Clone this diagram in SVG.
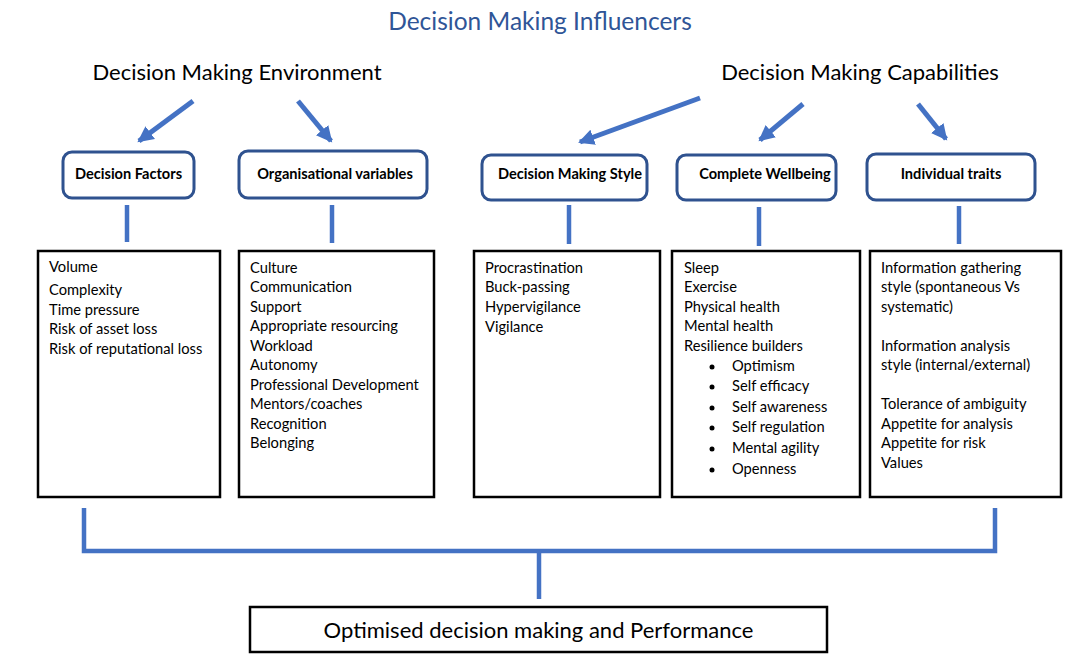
<svg xmlns="http://www.w3.org/2000/svg" width="1077" height="657" viewBox="0 0 1077 657">
<style>
.t{font-family:Lato,"Liberation Sans",sans-serif;fill:#000}
.title{font-size:24.5px;fill:#2F5597}
.h{font-size:22px}
.hb{font-size:14.6px;font-weight:bold}
.b{font-size:14.7px}
.rb{fill:#fff;stroke:#2F528F;stroke-width:3}
.cb{fill:#fff;stroke:#000;stroke-width:2.5}
.ln{stroke:#4472C4;stroke-width:4.5;fill:none}
.ar{stroke:#4472C4;stroke-width:5;fill:none;marker-end:url(#ah)}
</style>
<defs>
<marker id="ah" markerUnits="userSpaceOnUse" markerWidth="20" markerHeight="20" viewBox="0 0 20 20" refX="14" refY="10" orient="auto">
<path d="M0,2 L16,10 L0,18 z" fill="#4472C4"/>
</marker>
</defs>
<text class="t title" x="540" y="30" text-anchor="middle">Decision Making Influencers</text>
<text class="t h" x="237" y="80" text-anchor="middle">Decision Making Environment</text>
<text class="t h" x="860" y="80" text-anchor="middle">Decision Making Capabilities</text>
<g id="connectors">
<line class="ar" x1="193" y1="101" x2="139" y2="141"/>
<line class="ar" x1="298" y1="101" x2="331" y2="141"/>
<line class="ar" x1="700" y1="98" x2="580" y2="142"/>
<line class="ar" x1="803" y1="104" x2="760" y2="140"/>
<line class="ar" x1="918" y1="104" x2="946" y2="139"/>
<line class="ln" x1="127" y1="205" x2="127" y2="242"/>
<line class="ln" x1="332" y1="205" x2="332" y2="243"/>
<line class="ln" x1="569" y1="205" x2="569" y2="244"/>
<line class="ln" x1="759" y1="207" x2="759" y2="246"/>
<line class="ln" x1="959" y1="206" x2="959" y2="244"/>
<polyline class="ln" points="84,508 84,551 995,551 995,508"/>
<line class="ln" x1="539" y1="551" x2="539" y2="599"/>
</g>
<g id="decision-factors">
<rect class="rb" x="63" y="152" width="131" height="46" rx="9"/>
<text class="t hb" x="128.5" y="179" text-anchor="middle">Decision Factors</text>
</g>
<g id="organisational-variables">
<rect class="rb" x="239" y="151" width="188" height="47" rx="9"/>
<text class="t hb" x="335" y="179" text-anchor="middle">Organisational variables</text>
</g>
<g id="decision-making-style">
<rect class="rb" x="482" y="155" width="165" height="45" rx="9"/>
<text class="t hb" x="570" y="179" text-anchor="middle">Decision Making Style</text>
</g>
<g id="complete-wellbeing">
<rect class="rb" x="677" y="155" width="159" height="45" rx="9"/>
<text class="t hb" x="765" y="179" text-anchor="middle">Complete Wellbeing</text>
</g>
<g id="individual-traits">
<rect class="rb" x="867" y="154" width="168" height="46" rx="9"/>
<text class="t hb" x="951" y="179" text-anchor="middle">Individual traits</text>
</g>
<g id="factors-list">
<rect class="cb" x="38" y="251" width="182" height="246"/>
<text class="t b" x="49" y="272">Volume</text>
<text class="t b" x="49" y="295">Complexity</text>
<text class="t b" x="49" y="315">Time pressure</text>
<text class="t b" x="49" y="334">Risk of asset loss</text>
<text class="t b" x="49" y="354">Risk of reputational loss</text>
</g>
<g id="org-list">
<rect class="cb" x="239" y="251" width="195" height="246"/>
<text class="t b" x="250" y="273">Culture</text>
<text class="t b" x="250" y="292">Communication</text>
<text class="t b" x="250" y="312">Support</text>
<text class="t b" x="250" y="331">Appropriate resourcing</text>
<text class="t b" x="250" y="351">Workload</text>
<text class="t b" x="250" y="370">Autonomy</text>
<text class="t b" x="250" y="390">Professional Development</text>
<text class="t b" x="250" y="409">Mentors/coaches</text>
<text class="t b" x="250" y="429">Recognition</text>
<text class="t b" x="250" y="448">Belonging</text>
</g>
<g id="style-list">
<rect class="cb" x="474" y="251" width="186" height="246"/>
<text class="t b" x="485" y="273">Procrastination</text>
<text class="t b" x="485" y="292">Buck-passing</text>
<text class="t b" x="485" y="312">Hypervigilance</text>
<text class="t b" x="485" y="332">Vigilance</text>
</g>
<g id="wellbeing-list">
<rect class="cb" x="672" y="251" width="188" height="246"/>
<text class="t b" x="684" y="273">Sleep</text>
<text class="t b" x="684" y="292">Exercise</text>
<text class="t b" x="684" y="312">Physical health</text>
<text class="t b" x="684" y="331">Mental health</text>
<text class="t b" x="684" y="351">Resilience builders</text>
<g fill="#000">
<circle cx="712" cy="367" r="2.5"/>
<circle cx="712" cy="387" r="2.5"/>
<circle cx="712" cy="408" r="2.5"/>
<circle cx="712" cy="428" r="2.5"/>
<circle cx="712" cy="449" r="2.5"/>
<circle cx="712" cy="470" r="2.5"/>
</g>
<text class="t b" x="732" y="371">Optimism</text>
<text class="t b" x="732" y="391">Self efficacy</text>
<text class="t b" x="732" y="412">Self awareness</text>
<text class="t b" x="732" y="432">Self regulation</text>
<text class="t b" x="732" y="453">Mental agility</text>
<text class="t b" x="732" y="474">Openness</text>
</g>
<g id="traits-list">
<rect class="cb" x="870" y="251" width="191" height="246"/>
<text class="t b" x="881" y="273">Information gathering</text>
<text class="t b" x="881" y="292">style (spontaneous Vs</text>
<text class="t b" x="881" y="312">systematic)</text>
<text class="t b" x="881" y="351">Information analysis</text>
<text class="t b" x="881" y="370">style (internal/external)</text>
<text class="t b" x="881" y="409">Tolerance of ambiguity</text>
<text class="t b" x="881" y="429">Appetite for analysis</text>
<text class="t b" x="881" y="448">Appetite for risk</text>
<text class="t b" x="881" y="468">Values</text>
</g>
<g id="outcome">
<rect class="cb" x="250" y="607" width="577" height="45"/>
<text class="t" x="538.5" y="638" text-anchor="middle" font-size="22">Optimised decision making and Performance</text>
</g>
</svg>
